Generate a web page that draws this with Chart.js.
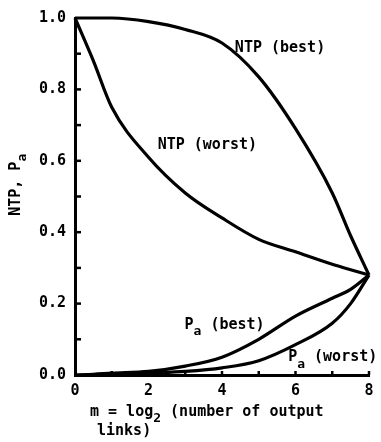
<!DOCTYPE html>
<html>
<head>
<meta charset="utf-8">
<script src="https://cdn.jsdelivr.net/npm/chart.js@4.4.0/dist/chart.umd.min.js"></script>
<style>
  html, body { margin: 0; padding: 0; background: #fff; }
  #wrap { width: 381px; height: 442px; }
</style>
</head>
<body>
<div id="wrap"><canvas id="chart"></canvas></div>
<script>
// m = log2(number of output links)
const mValues  = [0, 0.5, 1, 2, 3, 4, 5, 6, 7, 7.5, 8];
const ntpBest  = [1.0, 1.0, 1.0, 0.99, 0.968, 0.93, 0.835, 0.69, 0.51, 0.39, 0.28];
const ntpWorst = [1.0, 0.88, 0.75, 0.61, 0.51, 0.44, 0.38, 0.345, 0.31, 0.295, 0.28];
const paBest   = [0.0, 0.002, 0.005, 0.01, 0.025, 0.05, 0.10, 0.165, 0.215, 0.24, 0.28];
const paWorst  = [0.0, 0.0, 0.0, 0.005, 0.01, 0.02, 0.04, 0.085, 0.145, 0.2, 0.28];

const yLabels = ['0.0', '0.2', '0.4', '0.6', '0.8', '1.0'];
const xLabels = ['0', '2', '4', '6', '8'];

// curve labels: [main text, subscript, rest, m, value]
const curveLabels = [
    ['NTP (best)', '', '', 4.35, 0.915],
    ['NTP (worst)', '', '', 2.25, 0.645],
    ['P', 'a', ' (best)', 2.98, 0.14],
    ['P', 'a', ' (worst)', 5.8, 0.05]
];

const FONT = 'bold 15px "DejaVu Sans Mono", monospace';
const SUB_FONT = 'bold 13px "DejaVu Sans Mono", monospace';

const toPoints = (ys) => ys.map((y, i) => ({ x: mValues[i], y }));

const makeSet = (data) => ({
    data: toPoints(data),
    borderColor: '#000',
    borderWidth: 3.2,
    pointRadius: 0,
    fill: false,
    clip: false,
    cubicInterpolationMode: 'monotone'
});

// text with an optional subscript after the first part
const drawSubText = (ctx, x, y, main, sub, rest) => {
    ctx.font = FONT;
    ctx.fillText(main, x, y);
    let cx = x + ctx.measureText(main).width;
    if (sub) {
        ctx.font = SUB_FONT;
        ctx.fillText(sub, cx, y + 7);
        cx += ctx.measureText(sub).width;
        ctx.font = FONT;
    }
    if (rest) ctx.fillText(rest, cx, y);
};

const decorations = {
    id: 'decorations',
    afterDraw(chart) {
        const { ctx, scales: { x, y }, chartArea } = chart;
        ctx.save();
        ctx.fillStyle = '#000';
        ctx.strokeStyle = '#000';

        // inward tick marks on the y axis, every 0.1
        ctx.lineWidth = 2.5;
        for (let v = 1; v < 10; v++) {
            const py = y.getPixelForValue(v / 10);
            ctx.beginPath();
            ctx.moveTo(chartArea.left, py);
            ctx.lineTo(chartArea.left + 6, py);
            ctx.stroke();
        }
        // small marks above the x axis at each integer m
        for (let v = 1; v <= 8; v++) {
            const px = x.getPixelForValue(v);
            ctx.beginPath();
            ctx.moveTo(px, chartArea.bottom);
            ctx.lineTo(px, chartArea.bottom - 4);
            ctx.stroke();
        }

        // curve labels
        ctx.textBaseline = 'middle';
        ctx.textAlign = 'left';
        curveLabels.forEach(([main, sub, rest, m, val]) => {
            drawSubText(ctx, x.getPixelForValue(m), y.getPixelForValue(val), main, sub, rest);
        });

        // y axis title, rotated
        ctx.save();
        ctx.translate(16, (chartArea.top + chartArea.bottom) / 2 - 10);
        ctx.rotate(-Math.PI / 2);
        ctx.font = 'bold 14px "DejaVu Sans Mono", monospace';
        const w = ctx.measureText('NTP, P').width + 8;
        drawSubText(ctx, -w / 2, 0, 'NTP, P', 'a', '');
        ctx.restore();

        // x axis title, two left-aligned lines
        drawSubText(ctx, 90, chartArea.bottom + 37, 'm = log', '2', ' (number of output');
        drawSubText(ctx, 97, chartArea.bottom + 56, 'links)', '', '');

        ctx.restore();
    }
};

new Chart(document.getElementById('chart'), {
    type: 'line',
    data: {
        datasets: [makeSet(ntpBest), makeSet(ntpWorst), makeSet(paBest), makeSet(paWorst)]
    },
    options: {
        responsive: true,
        maintainAspectRatio: false,
        animation: false,
        layout: { padding: { top: 15, right: 12, left: 0, bottom: 0 } },
        plugins: { legend: { display: false }, tooltip: { enabled: false } },
        scales: {
            x: {
                type: 'linear',
                min: 0,
                max: 8,
                afterFit: (scale) => { scale.height = 67; },
                border: { display: true, color: '#000', width: 3 },
                grid: { display: false, drawTicks: false },
                ticks: {
                    stepSize: 2,
                    padding: 7,
                    color: '#000',
                    font: { family: 'DejaVu Sans Mono', size: 15, weight: 'bold' },
                    callback: (v) => xLabels[v / 2]
                }
            },
            y: {
                min: 0,
                max: 1,
                afterFit: (scale) => { scale.width = 75; },
                border: { display: true, color: '#000', width: 3 },
                grid: { display: false, drawTicks: false },
                ticks: {
                    stepSize: 0.2,
                    padding: 9,
                    color: '#000',
                    font: { family: 'DejaVu Sans Mono', size: 15, weight: 'bold' },
                    callback: (v) => yLabels[Math.round(v * 5)]
                }
            }
        }
    },
    plugins: [decorations]
});
</script>
</body>
</html>
